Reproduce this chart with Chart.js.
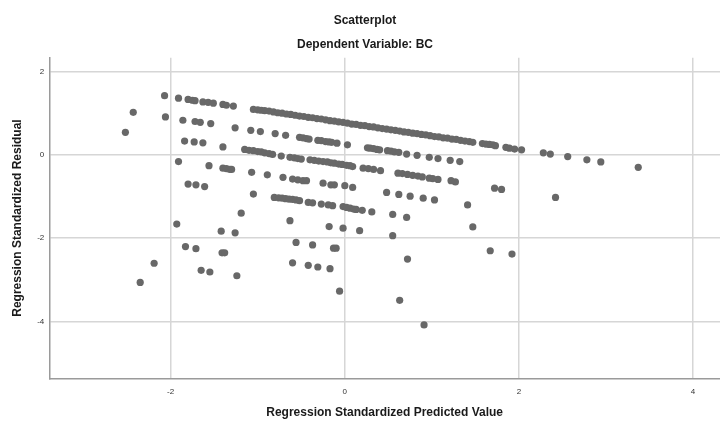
<!DOCTYPE html>
<html lang="en">
<head>
<meta charset="UTF-8">
<title>Scatterplot</title>
<script src="https://cdn.jsdelivr.net/npm/chart.js"></script>
<style>
    body { margin: 0; background: #ffffff; }
    #chart { display: block; }
</style>
</head>
<body>
<canvas id="chart" width="720" height="425"></canvas>
<script>
    // [standardized predicted value, standardized residual]
    var topBand = [
        [-2.07, 1.42], [-1.91, 1.36], [-1.80, 1.33], [-1.75, 1.31], [-1.72, 1.30], [-1.63, 1.27], [-1.57, 1.26],
        [-1.51, 1.24], [-1.40, 1.21], [-1.36, 1.19], [-1.28, 1.17], [-1.05, 1.09], [-1.00, 1.08], [-0.96, 1.07],
        [-0.92, 1.06], [-0.87, 1.05], [-0.82, 1.03], [-0.77, 1.01], [-0.72, 1.00], [-0.67, 0.98], [-0.62, 0.97],
        [-0.57, 0.95], [-0.52, 0.93], [-0.47, 0.92], [-0.42, 0.90], [-0.37, 0.89], [-0.32, 0.87], [-0.27, 0.86],
        [-0.22, 0.84], [-0.17, 0.82], [-0.12, 0.81], [-0.07, 0.79], [-0.02, 0.78], [0.03, 0.76], [0.08, 0.74],
        [0.13, 0.73], [0.18, 0.71], [0.23, 0.70], [0.28, 0.68], [0.33, 0.67], [0.38, 0.65], [0.43, 0.63],
        [0.48, 0.62], [0.53, 0.60], [0.58, 0.59], [0.63, 0.57], [0.68, 0.55], [0.73, 0.54], [0.78, 0.52],
        [0.83, 0.51], [0.88, 0.49], [0.93, 0.48], [0.98, 0.46], [1.03, 0.44], [1.08, 0.43], [1.13, 0.41],
        [1.18, 0.40], [1.23, 0.38], [1.28, 0.37], [1.33, 0.35], [1.38, 0.33], [1.43, 0.32], [1.47, 0.30],
        [1.58, 0.27], [1.62, 0.26], [1.66, 0.25], [1.70, 0.24], [1.73, 0.22], [1.85, 0.18], [1.89, 0.16],
        [1.95, 0.14], [2.03, 0.12], [2.28, 0.05], [2.36, 0.02], [2.56, -0.04], [2.78, -0.12], [2.94, -0.17],
        [3.37, -0.30]
    ];
    var secondBand = [
        [-2.06, 0.91], [-1.86, 0.83], [-1.72, 0.80], [-1.66, 0.78], [-1.54, 0.75], [-1.26, 0.65], [-1.08, 0.59],
        [-0.97, 0.56], [-0.80, 0.51], [-0.68, 0.47], [-0.52, 0.42], [-0.48, 0.41], [-0.44, 0.39], [-0.41, 0.38],
        [-0.31, 0.35], [-0.27, 0.34], [-0.22, 0.32], [-0.18, 0.31], [-0.15, 0.30], [-0.09, 0.28], [0.03, 0.24],
        [0.26, 0.17], [0.29, 0.16], [0.33, 0.15], [0.37, 0.13], [0.40, 0.12], [0.49, 0.10], [0.53, 0.09],
        [0.57, 0.07], [0.62, 0.06], [0.71, 0.02], [0.83, -0.01], [0.97, -0.06], [1.07, -0.09], [1.21, -0.13],
        [1.32, -0.16]
    ];
    var thirdBand = [
        [-1.84, 0.33], [-1.73, 0.31], [-1.63, 0.29], [-1.40, 0.19], [-1.15, 0.13], [-1.10, 0.11], [-1.05, 0.10],
        [-1.00, 0.08], [-0.96, 0.07], [-0.92, 0.05], [-0.87, 0.03], [-0.83, 0.01], [-0.73, -0.03], [-0.63, -0.06],
        [-0.58, -0.07], [-0.54, -0.09], [-0.50, -0.10], [-0.40, -0.12], [-0.35, -0.13], [-0.30, -0.15],
        [-0.25, -0.16], [-0.20, -0.17], [-0.16, -0.19], [-0.12, -0.20], [-0.07, -0.22], [-0.03, -0.23],
        [0.02, -0.25], [0.06, -0.26], [0.09, -0.28], [0.21, -0.32], [0.27, -0.33], [0.33, -0.35], [0.41, -0.38],
        [0.61, -0.44], [0.66, -0.45], [0.72, -0.47], [0.78, -0.49], [0.84, -0.51], [0.89, -0.53], [0.97, -0.56],
        [1.01, -0.57], [1.07, -0.59], [1.22, -0.62], [1.27, -0.65]
    ];
    var fourthBand = [
        [-1.91, -0.16], [-1.56, -0.26], [-1.40, -0.32], [-1.36, -0.33], [-1.32, -0.35], [-1.30, -0.35],
        [-1.07, -0.42], [-0.89, -0.48], [-0.71, -0.54], [-0.60, -0.58], [-0.54, -0.60], [-0.48, -0.62],
        [-0.44, -0.62], [-0.25, -0.68], [-0.16, -0.72], [-0.12, -0.72], [0.00, -0.74], [0.09, -0.78],
        [0.48, -0.90], [0.62, -0.95], [0.75, -0.99], [0.90, -1.04], [1.03, -1.08], [1.72, -0.80], [1.80, -0.83]
    ];
    var fifthBand = [
        [-1.80, -0.70], [-1.71, -0.72], [-1.61, -0.76], [-1.05, -0.94], [-0.81, -1.02], [-0.76, -1.03],
        [-0.72, -1.04], [-0.68, -1.05], [-0.64, -1.06], [-0.60, -1.07], [-0.56, -1.08], [-0.52, -1.10],
        [-0.42, -1.14], [-0.37, -1.15], [-0.27, -1.18], [-0.19, -1.20], [-0.14, -1.22], [-0.02, -1.24],
        [0.02, -1.26], [0.06, -1.28], [0.10, -1.30], [0.13, -1.31], [0.20, -1.33], [0.31, -1.37],
        [0.55, -1.43], [0.71, -1.50], [1.41, -1.20], [2.42, -1.02]
    ];
    var scattered = [
        [-2.52, 0.54], [-2.43, 1.02], [-1.19, -1.40], [-0.63, -1.58], [-1.93, -1.66], [-1.42, -1.83],
        [-1.26, -1.87], [-0.18, -1.72], [-0.02, -1.76], [0.17, -1.82], [0.55, -1.94], [1.47, -1.73],
        [1.67, -2.30], [1.92, -2.38], [-1.83, -2.20], [-1.71, -2.25], [-1.41, -2.35], [-1.38, -2.35],
        [-0.56, -2.10], [-0.37, -2.16], [-0.13, -2.24], [-0.10, -2.24], [-2.19, -2.60], [-2.35, -3.06],
        [-1.65, -2.77], [-1.55, -2.81], [-1.24, -2.90], [-0.60, -2.59], [-0.42, -2.65], [-0.31, -2.69],
        [-0.17, -2.73], [0.72, -2.50], [-0.06, -3.27], [0.63, -3.49], [0.91, -4.08]
    ];

    var xTicks = [-2, 0, 2, 4];
    var yTicks = [2, 0, -2, -4];

    var points = [].concat(topBand, secondBand, thirdBand, fourthBand, fifthBand, scattered)
        .map(function (p) { return { x: p[0], y: p[1] }; });

    var tickFont = { family: "'Liberation Sans', Arial, sans-serif", size: 8 };
    var boldFont = { family: "'Liberation Sans', Arial, sans-serif", size: 12, weight: 'bold' };

    var ctx = document.getElementById('chart').getContext('2d');
    var chart = new Chart(ctx, {
        type: 'scatter',
        data: {
            datasets: [{
                data: points,
                backgroundColor: '#686868',
                borderWidth: 0,
                pointRadius: 3.6,
                pointHoverRadius: 3.6
            }]
        },
        options: {
            responsive: false,
            animation: false,
            devicePixelRatio: 1,
            layout: {
                autoPadding: false, // plot runs right to the canvas edge
                padding: { left: 10, right: 0, top: 0, bottom: 0 }
            },
            scales: {
                x: {
                    type: 'linear',
                    min: -3.394,
                    max: 4.309,
                    afterBuildTicks: function (scale) {
                        scale.ticks = xTicks.map(function (v) { return { value: v }; });
                    },
                    afterFit: function (scale) { scale.height = 46.7; },
                    grid: { color: '#d6d6d6', lineWidth: 1.5, drawTicks: false },
                    border: { color: '#9a9a9a', width: 1.5 },
                    ticks: { font: tickFont, color: '#333333', padding: 9, maxRotation: 0 },
                    title: {
                        display: true,
                        text: 'Regression Standardized Predicted Value',
                        font: boldFont,
                        color: '#1a1a1a',
                        padding: { top: 0, bottom: 5 }
                    }
                },
                y: {
                    type: 'linear',
                    min: -5.361,
                    max: 2.329,
                    afterBuildTicks: function (scale) {
                        scale.ticks = yTicks.map(function (v) { return { value: v }; });
                    },
                    afterFit: function (scale) { scale.width = 39.3; },
                    grid: { color: '#d6d6d6', lineWidth: 1.5, drawTicks: false },
                    border: { color: '#9a9a9a', width: 1.5 },
                    ticks: { font: tickFont, color: '#333333', padding: 5 },
                    title: {
                        display: true,
                        text: 'Regression Standardized Residual',
                        font: boldFont,
                        color: '#1a1a1a',
                        padding: { top: 0, bottom: 0 }
                    }
                }
            },
            plugins: {
                legend: { display: false },
                tooltip: { enabled: false },
                title: {
                    display: true,
                    text: 'Scatterplot',
                    font: boldFont,
                    color: '#1a1a1a',
                    padding: { top: 13, bottom: 8 }
                },
                subtitle: {
                    display: true,
                    text: 'Dependent Variable: BC',
                    font: boldFont,
                    color: '#1a1a1a',
                    padding: { top: 2, bottom: 6 }
                }
            }
        }
    });
</script>
</body>
</html>
